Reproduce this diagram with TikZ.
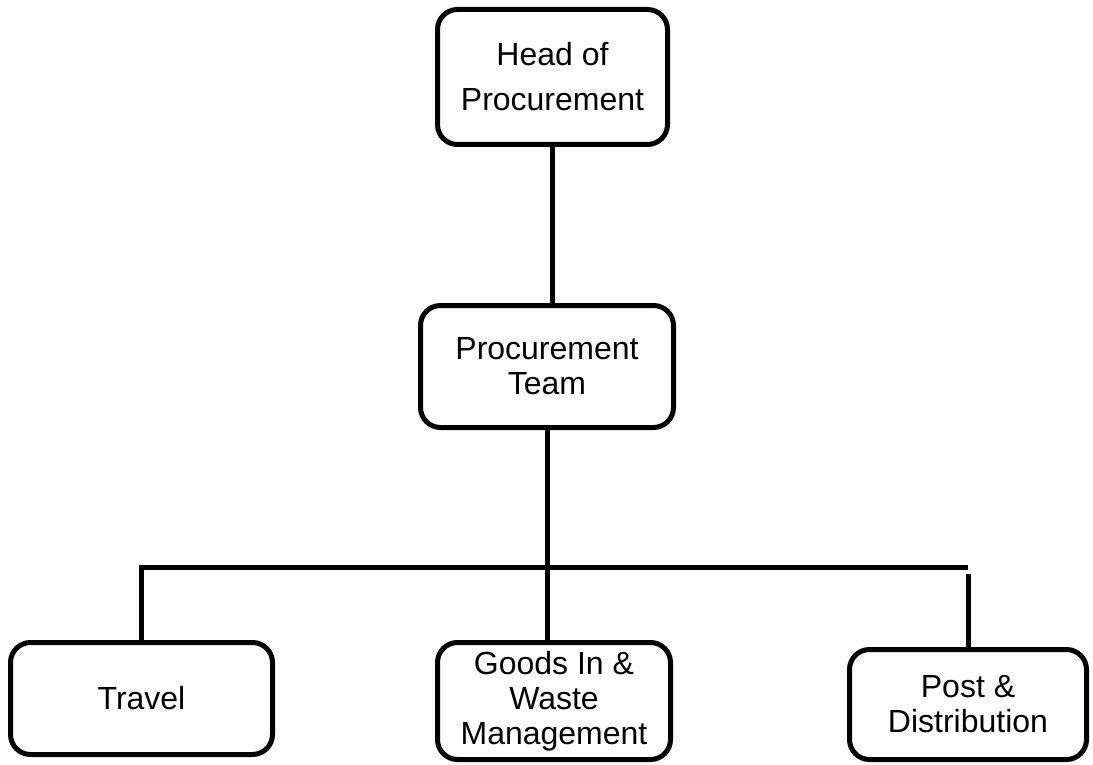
\documentclass[tikz,border=0pt]{standalone}
\usepackage{fontspec}
\setmainfont{Liberation Sans}
\begin{document}
\begin{tikzpicture}[x=1pt,y=-1pt,
  box/.style={draw, line width=5pt, rounded corners=20pt, align=center, inner sep=0pt,
    font=\fontsize{32}{35}\selectfont},
  conn/.style={line width=5pt, line join=miter}]
\useasboundingbox (0,0) rectangle (1093,765);
\node[box, minimum width=230pt, minimum height=135pt, font=\fontsize{32}{45}\selectfont] (head) at (552.5,77) {Head of\\Procurement};
\node[box, minimum width=253pt, minimum height=122pt] (team) at (547,366.5) {Procurement\\Team};
\node[box, minimum width=262pt, minimum height=112pt] (travel) at (141.5,698.5) {Travel};
\node[box, minimum width=233pt, minimum height=117pt] (goods) at (554,701) {Goods In \&\\Waste\\Management};
\node[box, minimum width=237pt, minimum height=110pt] (post) at (968,704.5) {Post \&\\Distribution};
\coordinate (barR) at (968,567);
\coordinate (postTop) at (968,574);
\draw[conn] (head.south) -- (head.south |- team.north);
\draw[conn] (team.south) -- (team.south |- goods.north);
\draw[conn] (travel.north) |- (barR);
\draw[conn] (post.north) -- (postTop);
\end{tikzpicture}
\end{document}
